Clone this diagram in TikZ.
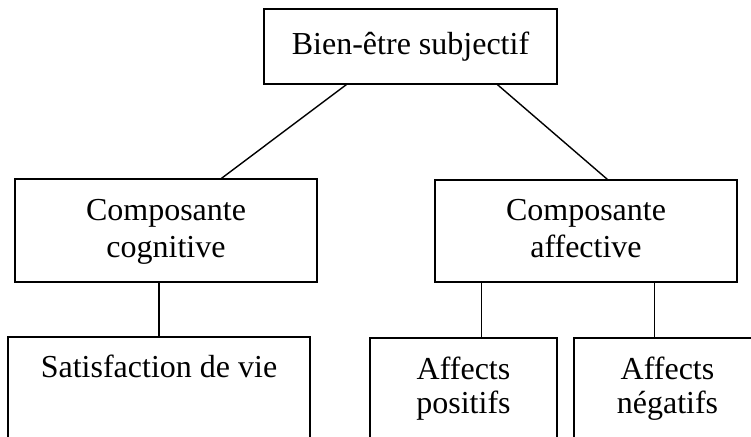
\documentclass[tikz,border=0pt]{standalone}
\usepackage{fontspec}
\setmainfont{Liberation Serif}
\usepackage{tikz}
\tikzstyle{box}=[rectangle,draw=black,line width=1.2pt,inner sep=0pt,
  align=center,anchor=base,font=\fontsize{32}{37}\selectfont]
\tikzstyle{none}=[]

\begin{document}
\begin{tikzpicture}[x=1pt, y=-1pt, line width=1.4pt]
            \useasboundingbox (0, 0) rectangle (751, 436);
            \node [style=box, minimum width=293pt, text height=46pt, text depth=29pt] (0) at (410.5, 55) {Bien-être subjectif};
            \node [style=box, minimum width=302pt, text height=78pt, text depth=25pt] (1) at (166, 257) {Composante\\cognitive};
            \node [style=box, minimum width=302pt, text height=77pt, text depth=25pt] (2) at (586, 257) {Composante\\affective};
            \node [style=box, minimum width=302pt, text height=40pt, text depth=90pt] (3) at (159, 377) {Satisfaction de vie};
            \node [style=box, minimum width=187pt, text height=75pt, text depth=56pt] (4) at (463.5, 413) {Affects\\[-3pt]positifs};
            \node [style=box, minimum width=187pt, text height=75pt, text depth=56pt] (5) at (667.5, 413) {Affects\\[-3pt]négatifs};
            \draw ([xshift=83pt]0.south west) to ([xshift=207pt]1.north west);
            \draw ([xshift=234pt]0.south west) to ([xshift=173pt]2.north west);
            \draw (1.south -| 3.north) to (3.north);
            \draw ([xshift=47pt]2.south west) to ([xshift=112pt]4.north west);
            \draw ([xshift=220pt]2.south west) to ([xshift=81pt]5.north west);
    \end{tikzpicture}
\end{document}
